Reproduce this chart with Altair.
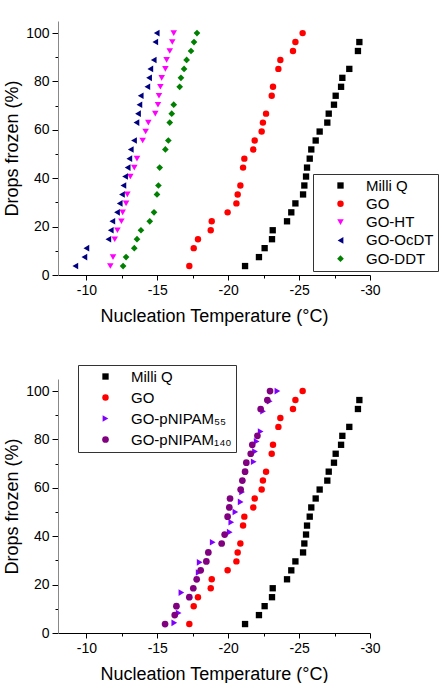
import altair as alt
import pandas as pd

FONT = "Liberation Sans"

# Freezing curves: nucleation temperature (°C) and cumulative fraction of drops frozen (%)
milliq_temp = [-21.19, -22.17, -22.57, -23.09, -23.14, -24.15, -24.45, -24.74, -25.28,
               -25.37, -25.49, -25.56, -25.75, -25.86, -26.17, -26.45, -26.99, -27.09,
               -27.46, -27.58, -27.96, -28.05, -28.54, -29.15, -29.25]
milliq_frozen = [3.7, 7.4, 11.1, 14.8, 18.5, 22.2, 25.9, 29.6, 33.3, 37.0, 40.7, 44.4, 48.1,
                 51.9, 55.6, 59.3, 63.0, 66.7, 70.4, 74.1, 77.8, 81.5, 85.2, 92.6, 96.3]

go_temp = [-17.26, -17.57, -17.87, -18.77, -18.84, -19.96, -20.58, -20.67, -20.86, -21.05,
           -21.14, -21.77, -21.87, -22.36, -22.45, -22.67, -23.07, -23.16, -23.54, -23.68,
           -24.57, -24.74, -25.25]
go_frozen = [3.7, 11.1, 14.8, 18.5, 22.2, 25.9, 29.6, 33.3, 37.0, 44.4, 48.1, 51.9, 55.6,
             59.3, 63.0, 66.7, 74.1, 77.8, 85.2, 88.9, 92.6, 96.3, 100.0]

ht_temp = [-11.69, -11.88, -12.00, -12.19, -12.47, -12.56, -12.80, -12.89, -13.10, -13.38,
           -13.57, -13.97, -14.18, -14.37, -14.86, -15.05, -15.12, -15.22, -15.31, -15.57,
           -15.66, -15.88, -16.06, -16.16]
ht_frozen = [3.7, 7.4, 14.8, 18.5, 22.2, 25.9, 29.6, 33.3, 40.7, 44.4, 48.1, 55.6, 59.3,
             63.0, 66.7, 70.4, 74.1, 77.8, 81.5, 85.2, 88.9, 92.6, 96.3, 100.0]

ocdt_temp = [-9.22, -9.86, -10.00, -11.55, -11.72, -11.83, -12.16, -12.35, -12.51, -12.61,
             -12.73, -12.91, -13.03, -13.13, -13.36, -13.53, -13.64, -13.74, -13.83, -14.30,
             -14.42, -14.51, -14.75, -14.86, -14.96]
ocdt_frozen = [3.7, 7.4, 11.1, 14.8, 18.5, 22.2, 25.9, 29.6, 33.3, 37.0, 40.7, 44.4, 48.1,
               51.9, 55.6, 63.0, 66.7, 70.4, 74.1, 77.8, 81.5, 85.2, 88.9, 96.3, 100.0]

ddt_temp = [-12.59, -12.80, -13.38, -13.57, -13.85, -14.47, -14.77, -14.98, -15.08, -15.17,
            -15.57, -15.78, -15.88, -16.02, -16.16, -16.58, -16.67, -16.89, -17.07, -17.38,
            -17.59, -17.80]
ddt_frozen = [3.7, 7.4, 11.1, 14.8, 18.5, 22.2, 25.9, 33.3, 37.0, 44.4, 51.9, 55.6, 63.0,
              66.7, 70.4, 77.8, 81.5, 85.2, 88.9, 92.6, 96.3, 100.0]

p55_temp = [-16.20, -16.51, -16.70, -17.92, -17.99, -18.91, -20.11, -20.22, -20.51, -20.88,
            -20.98, -21.80, -21.89, -22.01, -22.29, -22.46, -22.93, -23.47]
p55_frozen = [4.2, 8.3, 16.7, 25.0, 29.2, 37.5, 41.7, 45.8, 50.0, 54.2, 58.3, 70.8, 75.0,
              79.2, 83.3, 91.7, 95.8, 100.0]

p140_temp = [-15.55, -16.23, -16.35, -17.26, -17.54, -17.78, -18.06, -18.46, -18.60, -19.54,
             -19.75, -19.96, -20.08, -20.13, -20.88, -21.00, -21.19, -21.28, -21.59, -21.70,
             -22.06, -22.29, -22.76, -22.95]
p140_frozen = [3.7, 7.4, 11.1, 14.8, 18.5, 22.2, 25.9, 29.6, 33.3, 37.0, 40.7, 48.1, 51.9,
               55.6, 59.3, 63.0, 66.7, 70.4, 74.1, 77.8, 81.5, 92.6, 96.3, 100.0]

# Axis tick positions (major + minor)
x_ticks = [-10, -12.5, -15, -17.5, -20, -22.5, -25, -27.5, -30]
y_ticks = [0, 10, 20, 30, 40, 50, 60, 70, 80, 90, 100]

top_order = ["Milli Q", "GO", "GO-HT", "GO-OcDT", "GO-DDT"]
top_colors = ["#000000", "#ff0000", "#ff00ff", "#000080", "#008000"]
top_shapes = ["square", "circle", "triangle-down", "triangle-left", "diamond"]
top_sizes = [40, 45, 80, 80, 55]

bottom_order = ["Milli Q", "GO", "GO-pNIPAM₅₅", "GO-pNIPAM₁₄₀"]
bottom_colors = ["#000000", "#ff0000", "#8000ff", "#800080"]
bottom_shapes = ["square", "circle", "triangle-right", "circle"]
bottom_sizes = [40, 45, 80, 50]


def frame(name, temps, frozen):
    return pd.DataFrame({"series": name, "temp": temps, "frozen": frozen})


top_df = pd.concat([
    frame("Milli Q", milliq_temp, milliq_frozen),
    frame("GO", go_temp, go_frozen),
    frame("GO-HT", ht_temp, ht_frozen),
    frame("GO-OcDT", ocdt_temp, ocdt_frozen),
    frame("GO-DDT", ddt_temp, ddt_frozen),
], ignore_index=True)

bottom_df = pd.concat([
    frame("Milli Q", milliq_temp, milliq_frozen),
    frame("GO", go_temp, go_frozen),
    frame("GO-pNIPAM₅₅", p55_temp, p55_frozen),
    frame("GO-pNIPAM₁₄₀", p140_temp, p140_frozen),
], ignore_index=True)

x_axis = alt.Axis(
    values=x_ticks,
    labelExpr="datum.value % 5 === 0 ? toString(datum.value) : ''",
    tickSize={"condition": {"test": "datum.value % 5 === 0", "value": 5}, "value": 3},
    domainColor="#000000", tickColor="#000000", grid=False,
    labelFont=FONT, labelFontSize=14, labelColor="#000000", labelPadding=3,
    labelOverlap=False, labelFlush=False,
    title="Nucleation Temperature (°C)", titleFont=FONT, titleFontSize=18,
    titleFontWeight="normal", titleColor="#000000", titlePadding=10,
)

y_axis = alt.Axis(
    values=y_ticks,
    labelExpr="datum.value % 20 === 0 ? toString(datum.value) : ''",
    tickSize={"condition": {"test": "datum.value % 20 === 0", "value": 6}, "value": 3},
    domainColor="#888888", tickColor="#000000", grid=False,
    labelFont=FONT, labelFontSize=14, labelColor="#000000", labelPadding=3,
    labelOverlap=False, labelFlush=False,
    title="Drops frozen (%)", titleFont=FONT, titleFontSize=18,
    titleFontWeight="normal", titleColor="#000000", titlePadding=4,
)


def panel(df, order, colors, shapes, sizes, lx, ly, row_pad):
    legend = alt.Legend(
        title=None, orient="none", legendX=lx, legendY=ly, direction="vertical",
        strokeColor="#333333", fillColor="#ffffff", padding=4,
        symbolOffset=16, labelOffset=18, symbolSize=30, symbolStrokeWidth=0,
        labelFont=FONT, labelFontSize=15, labelColor="#000000", rowPadding=row_pad,
    )
    return alt.Chart(df).mark_point(filled=True, opacity=1).encode(
        x=alt.X("temp:Q", scale=alt.Scale(domain=[-30, -8], reverse=True, nice=False, zero=False),
                axis=x_axis),
        y=alt.Y("frozen:Q", scale=alt.Scale(domain=[0, 105], nice=False), axis=y_axis),
        color=alt.Color("series:N", scale=alt.Scale(domain=order, range=colors), legend=legend),
        shape=alt.Shape("series:N", scale=alt.Scale(domain=order, range=shapes), legend=legend),
        size=alt.Size("series:N", scale=alt.Scale(domain=order, range=sizes), legend=None),
    ).properties(width=312, height=254)


top = panel(top_df, top_order, top_colors, top_shapes, top_sizes, 255, 153, 2.3)
bottom = panel(bottom_df, bottom_order, bottom_colors, bottom_shapes, bottom_sizes, 20, -14, 5)

chart = alt.vconcat(top, bottom, spacing=39).resolve_scale(
    color="independent", shape="independent", size="independent"
).resolve_legend(
    color="independent", shape="independent", size="independent"
).properties(
    padding={"left": 3, "top": 21, "right": 0, "bottom": 0},
    background="#ffffff",
).configure_view(stroke=None)

chart.save("out.html", embed_options={"renderer": "svg", "actions": False})
